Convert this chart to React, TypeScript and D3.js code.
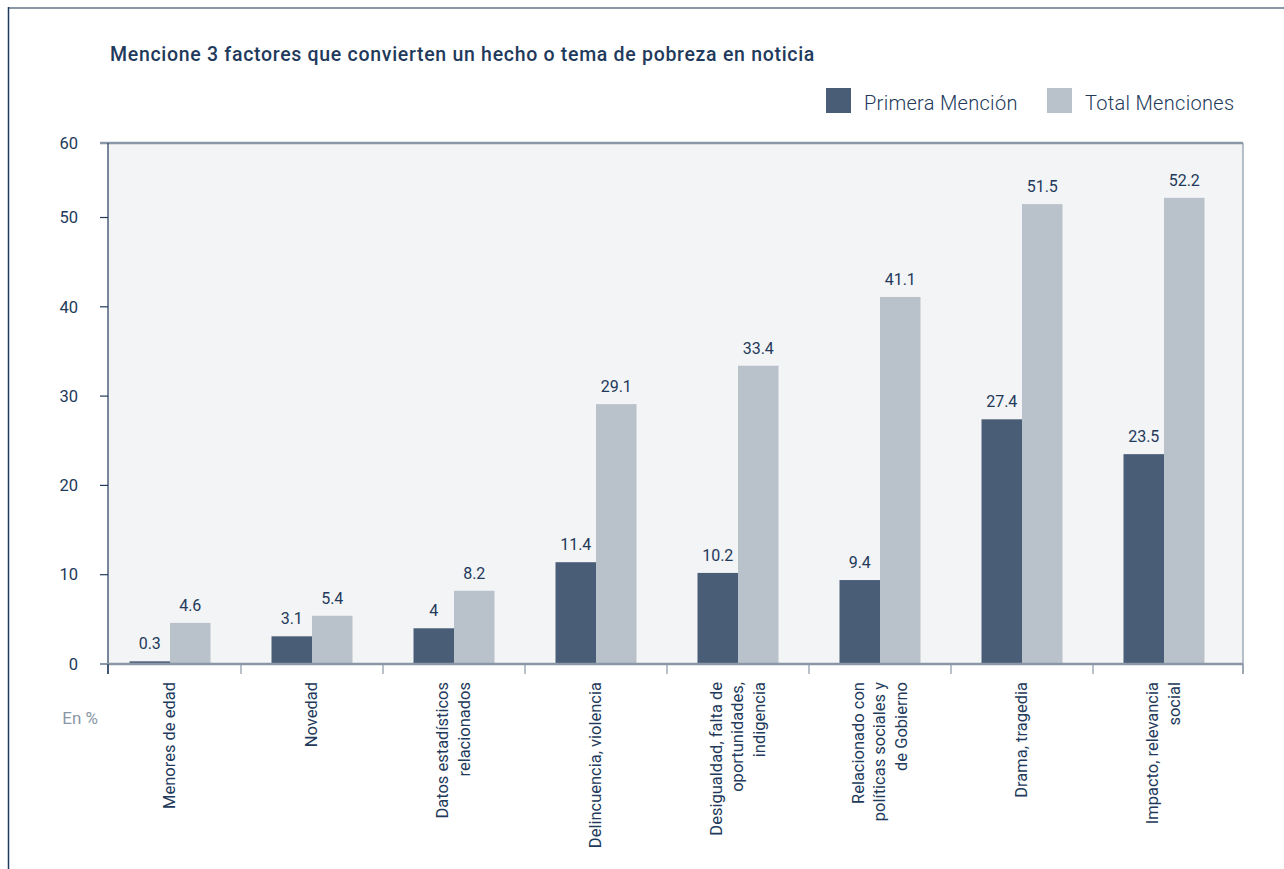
import React from "react";
import * as d3 from "d3";

const title = "Mencione 3 factores que convierten un hecho o tema de pobreza en noticia";
const categories = [
  ["Menores de edad"],
  ["Novedad"],
  ["Datos estadísticos", "relacionados"],
  ["Delincuencia, violencia"],
  ["Desigualdad, falta de", "oportunidades,", "indigencia"],
  ["Relacionado con", "políticas sociales y", "de Gobierno"],
  ["Drama, tragedia"],
  ["Impacto, relevancia", "social"],
];
const seriesNames = ["Primera Mención", "Total Menciones"];
const primera = [0.3, 3.1, 4, 11.4, 10.2, 9.4, 27.4, 23.5];
const total = [4.6, 5.4, 8.2, 29.1, 33.4, 41.1, 51.5, 52.2];
const yTicks = [0, 10, 20, 30, 40, 50, 60];
const unitLabel = "En %";

const colors = ["#4a5d77", "#b9c1ca"];
const navy = "#22395a";
const gray = "#8a97a6";
const font = "Roboto, 'DejaVu Sans', sans-serif";

export default function App() {
  const W = 1284, H = 869;
  const plotLeft = 108, plotRight = 1243, plotTop = 143, plotBottom = 664;
  const y = d3.scaleLinear().domain([0, 60]).range([plotBottom, 128.2]);
  const keys = categories.map((c) => c.join(" "));
  const x = d3.scaleBand<string>().domain(keys).range([99, 1235]);
  const bw = x.bandwidth();
  const xs = d3.scaleBand<string>().domain(seriesNames).range([bw / 2 - 40.5, bw / 2 + 40.5]);
  const values = [primera, total];
  const tickXs = [plotLeft, ...keys.slice(1).map((k) => x(k) as number), plotRight];

  return (
    <svg width={W} height={H} style={{ position: "absolute", left: 0, top: 0, display: "block" }} fontFamily={font}>
      <rect x={0} y={0} width={W} height={H} fill="#ffffff" />
      {/* frame */}
      <line x1={8} y1={8} x2={W} y2={8} stroke={gray} strokeWidth={2} />
      <line x1={8.5} y1={7} x2={8.5} y2={H} stroke="#1f3b5f" strokeWidth={1.5} />

      <text x={110} y={61} fontSize={19.5} fontWeight={500} letterSpacing={0.7} fill="#1f3a5c">{title}</text>

      {/* legend */}
      {seriesNames.map((s, i) => {
        const lx = [826, 1047][i];
        return (
          <g key={s}>
            <rect x={lx} y={88} width={25} height={25} fill={colors[i]} />
            <text x={lx + 38} y={110} fontSize={20} fontWeight={300} letterSpacing={0.3} fill={navy}>{s}</text>
          </g>
        );
      })}

      {/* plot background */}
      <rect x={plotLeft} y={plotTop} width={plotRight - plotLeft} height={plotBottom - plotTop} fill="#f3f4f6" />

      {/* bars */}
      {values.map((vals, si) =>
        vals.map((v, ci) => {
          const bx = (x(keys[ci]) as number) + (xs(seriesNames[si]) as number);
          return (
            <g key={`${si}-${ci}`}>
              <rect x={bx} y={y(v)} width={xs.bandwidth()} height={plotBottom - y(v)} fill={colors[si]} />
              <text x={bx + xs.bandwidth() / 2} y={y(v) - 12} fontSize={16} fontWeight={400} textAnchor="middle" fill={navy}>{String(v)}</text>
            </g>
          );
        })
      )}

      {/* borders */}
      <line x1={100} y1={plotTop} x2={plotRight} y2={plotTop} stroke={gray} strokeWidth={2.5} />
      <line x1={plotRight} y1={plotTop} x2={plotRight} y2={plotBottom + 10} stroke={gray} strokeWidth={1.2} />
      <line x1={plotLeft} y1={plotTop} x2={plotLeft} y2={plotBottom + 10} stroke={navy} strokeWidth={1.2} />
      <line x1={plotLeft} y1={plotBottom} x2={plotRight} y2={plotBottom} stroke={gray} strokeWidth={2.5} />

      {/* y ticks */}
      {yTicks.map((t) => {
        const ty = Math.max(y(t), plotTop);
        return (
          <g key={t}>
            {t > 0 && t < 60 && <line x1={100} x2={plotLeft} y1={ty} y2={ty} stroke={navy} strokeWidth={1.2} />}
            {t === 0 && <line x1={100} x2={plotLeft} y1={ty} y2={ty} stroke={gray} strokeWidth={2} />}
            <text x={78} y={ty} dy="0.35em" fontSize={16.5} fontWeight={400} textAnchor="end" fill={navy}>{t}</text>
          </g>
        );
      })}

      {/* x ticks */}
      {tickXs.map((tx, i) => (
        <line key={i} x1={tx} x2={tx} y1={plotBottom} y2={plotBottom + 10} stroke={i === 0 ? navy : gray} strokeWidth={1.2} />
      ))}

      <text x={98} y={718} dy="0.35em" fontSize={17} fontWeight={400} textAnchor="end" fill={gray}>{unitLabel}</text>

      {/* x labels */}
      {categories.map((lines, ci) => {
        const cx = (x(keys[ci]) as number) + bw / 2;
        const lh = 21.5;
        const n = lines.length;
        return lines.map((ln, li) => {
          const lx = cx + (li - (n - 1) / 2) * lh + 5;
          return (
            <text key={`${ci}-${li}`} transform={`translate(${lx},${682}) rotate(-90)`} fontSize={16.5} fontWeight={400} textAnchor="end" fill={navy}>{ln}</text>
          );
        });
      })}
    </svg>
  );
}
